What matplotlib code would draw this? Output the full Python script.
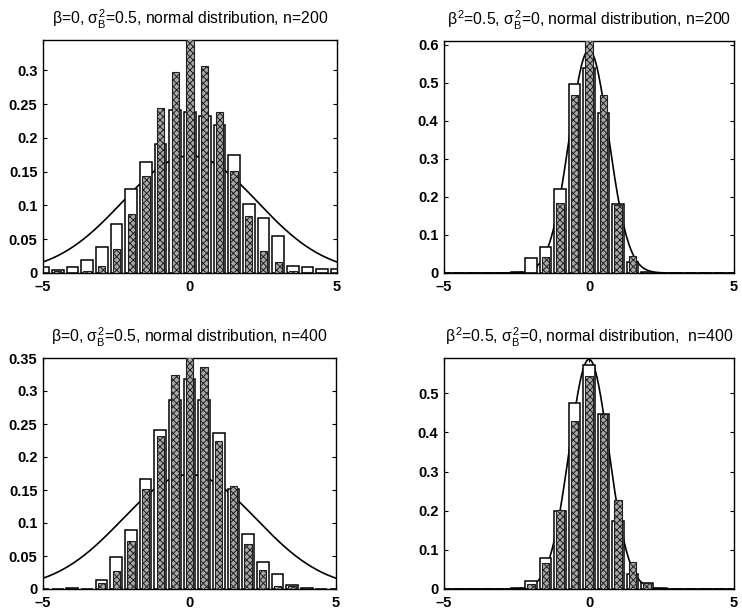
import numpy as np
import matplotlib

matplotlib.use("Agg")
import matplotlib.pyplot as plt

plt.rcParams["font.family"] = ["Liberation Sans", "DejaVu Sans"]
plt.rcParams["mathtext.fontset"] = "custom"
plt.rcParams["mathtext.rm"] = "Liberation Sans"
plt.rcParams["mathtext.it"] = "Liberation Sans"
plt.rcParams["mathtext.bf"] = "Liberation Sans:bold"
plt.rcParams["hatch.linewidth"] = 0.7

# bin centres shared by all four histograms
bins = [-5.0, -4.5, -4.0, -3.5, -3.0, -2.5, -2.0, -1.5, -1.0, -0.5, 0.0,
        0.5, 1.0, 1.5, 2.0, 2.5, 3.0, 3.5, 4.0, 4.5, 5.0]

# beta=0, sigma_B^2=0.5, n=200
white_200a = [0.009, 0.004, 0.009, 0.019, 0.039, 0.072, 0.125, 0.164, 0.191, 0.242, 0.239,
              0.232, 0.219, 0.175, 0.102, 0.081, 0.055, 0.010, 0.009, 0.0065, 0.006]
shade_200a = [0.0, 0.003, 0.0, 0.003, 0.011, 0.035, 0.087, 0.144, 0.245, 0.298, 0.36,
              0.306, 0.239, 0.151, 0.084, 0.032, 0.016, 0.003, 0.002, 0.0, 0.0]

# beta^2=0.5, sigma_B^2=0, n=200
white_200b = [0.0, 0.0, 0.0, 0.0, 0.0, 0.003, 0.039, 0.068, 0.222, 0.498, 0.538,
              0.421, 0.182, 0.029, 0.002, 0.0, 0.0, 0.0, 0.0, 0.0, 0.0]
shade_200b = [0.0, 0.0, 0.0, 0.0, 0.0, 0.001, 0.0, 0.042, 0.185, 0.468, 0.63,
              0.468, 0.178, 0.044, 0.003, 0.0, 0.0, 0.0, 0.0, 0.0, 0.0]

# beta=0, sigma_B^2=0.5, n=400
white_400a = [0.0, 0.0, 0.002, 0.0, 0.013, 0.049, 0.089, 0.167, 0.241, 0.286, 0.318,
              0.286, 0.237, 0.151, 0.084, 0.041, 0.023, 0.0065, 0.002, 0.0, 0.0]
shade_400a = [0.0, 0.0, 0.002, 0.0, 0.009, 0.028, 0.072, 0.151, 0.232, 0.324, 0.36,
              0.337, 0.224, 0.156, 0.068, 0.029, 0.005, 0.005, 0.001, 0.0, 0.0]

# beta^2=0.5, sigma_B^2=0, n=400
white_400b = [0.0, 0.0, 0.0, 0.0, 0.0, 0.002, 0.021, 0.080, 0.198, 0.476, 0.572,
              0.447, 0.173, 0.039, 0.015, 0.002, 0.0, 0.0, 0.0, 0.0, 0.0]
shade_400b = [0.0, 0.0, 0.0, 0.0, 0.0, 0.001, 0.013, 0.067, 0.202, 0.430, 0.544,
              0.447, 0.228, 0.070, 0.016, 0.001, 0.0, 0.0, 0.0, 0.0, 0.0]

# std of the overlaid normal density in each panel
sigmas = [2.3, 0.68, 2.3, 0.68]

titles = [
    r"$\beta$=0, $\sigma^2_B$=0.5, normal distribution, n=200",
    r"$\beta^2$=0.5, $\sigma^2_B$=0, normal distribution, n=200",
    r"$\beta$=0, $\sigma^2_B$=0.5, normal distribution, n=400",
    r"$\beta^2$=0.5, $\sigma^2_B$=0, normal distribution,  n=400",
]
ytops = [0.345, 0.61, 0.35, 0.59]
yticks = [
    [0, 0.05, 0.1, 0.15, 0.2, 0.25, 0.3],
    [0, 0.1, 0.2, 0.3, 0.4, 0.5, 0.6],
    [0, 0.05, 0.1, 0.15, 0.2, 0.25, 0.3, 0.35],
    [0, 0.1, 0.2, 0.3, 0.4, 0.5],
]
whites = [white_200a, white_200b, white_400a, white_400b]
shades = [shade_200a, shade_200b, shade_400a, shade_400b]

W, H = 742, 612
# axes boxes in pixels: left, top, right, bottom
boxes = [
    (43, 40, 337, 273),
    (444, 41, 734, 273),
    (43, 358, 336, 589),
    (444, 358, 734, 589),
]

fig = plt.figure(figsize=(W / 100, H / 100), dpi=100)
xs = np.linspace(-5, 5, 400)

for i in range(4):
    l, t, r, b = boxes[i]
    ax = fig.add_axes([l / W, (H - b) / H, (r - l) / W, (b - t) / H])

    s = sigmas[i]
    dens = np.exp(-xs ** 2 / (2 * s ** 2)) / (s * np.sqrt(2 * np.pi))
    ax.plot(xs, dens, color="black", lw=1.2, zorder=1)

    ax.bar(bins, whites[i], width=0.4, facecolor="white", edgecolor="black",
           linewidth=1.1, zorder=2)
    ax.bar(bins, shades[i], width=0.25, facecolor="#a8a8a8", edgecolor="#202020",
           hatch="xxxxx", linewidth=0.8, zorder=3)

    ax.set_xlim(-5, 5)
    ax.set_ylim(0, ytops[i])
    ax.set_xticks([-5, 0, 5])
    ax.set_xticklabels(["\u20135", "0", "5"])
    ax.set_yticks(yticks[i])
    ax.set_yticklabels(["%g" % v for v in yticks[i]])
    ax.tick_params(direction="in", length=3, top=True, right=True,
                   labelsize=10.5)
    ax.tick_params(axis="x", pad=5)
    ax.tick_params(axis="y", pad=4)
    for lab in ax.get_xticklabels() + ax.get_yticklabels():
        lab.set_fontweight("bold")
    for sp in ax.spines.values():
        sp.set_linewidth(1.0)
    ax.set_title(titles[i], fontsize=11.3, pad=11)

fig.savefig("out.png", dpi=100)
